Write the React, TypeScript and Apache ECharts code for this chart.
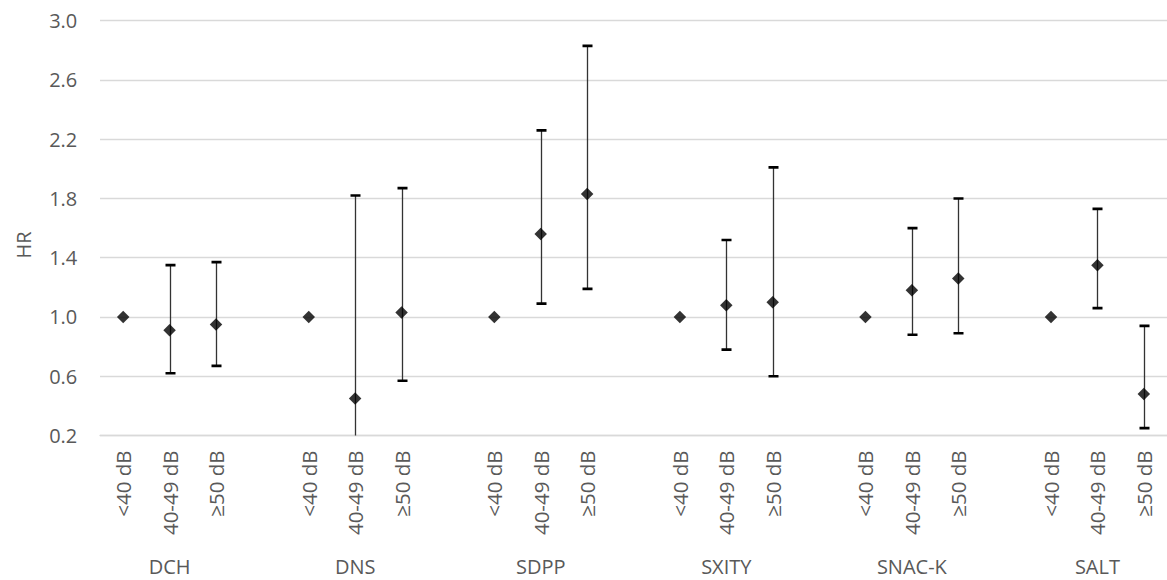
import React, { useEffect, useRef } from "react";
import * as echarts from "echarts";

const groups = ["DCH", "DNS", "SDPP", "SXITY", "SNAC-K", "SALT"];
const levels = ["<40 dB", "40-49 dB", "≥50 dB"];

const hr = [
  [1.0, 0.91, 0.95],
  [1.0, 0.45, 1.03],
  [1.0, 1.56, 1.83],
  [1.0, 1.08, 1.1],
  [1.0, 1.18, 1.26],
  [1.0, 1.35, 0.48],
];
const ciLow: (number | null)[][] = [
  [null, 0.62, 0.67],
  [null, 0.11, 0.57],
  [null, 1.09, 1.19],
  [null, 0.78, 0.6],
  [null, 0.88, 0.89],
  [null, 1.06, 0.25],
];
const ciHigh: (number | null)[][] = [
  [null, 1.35, 1.37],
  [null, 1.82, 1.87],
  [null, 2.26, 2.83],
  [null, 1.52, 2.01],
  [null, 1.6, 1.8],
  [null, 1.73, 0.94],
];

const yMin = 0.2;
const yMax = 3.0;
const yStep = 0.4;

export default function App() {
  const ref = useRef<HTMLDivElement>(null);

  useEffect(() => {
    if (!ref.current) return;
    const chart = echarts.init(ref.current, null, { renderer: "svg" });

    const cats: string[] = [];
    const groupCats: string[] = [];
    const points: [number, number][] = [];
    const bars: [number, number, number][] = [];
    groups.forEach((g, gi) => {
      levels.forEach((lv, li) => {
        const idx = cats.length;
        cats.push(lv);
        groupCats.push(li === 1 ? g : "");
        points.push([idx, hr[gi][li]]);
        const lo = ciLow[gi][li];
        const hi = ciHigh[gi][li];
        if (lo != null && hi != null) bars.push([idx, lo, hi]);
      });
      if (gi < groups.length - 1) {
        cats.push("");
        groupCats.push("");
      }
    });

    const font = "'Open Sans', 'Liberation Sans', sans-serif";
    const textColor = "#595959";

    chart.setOption({
      animation: false,
      backgroundColor: "#ffffff",
      grid: { left: 100, right: -8.5, top: 20.7, bottom: 144.5, containLabel: false },
      xAxis: [
        {
          type: "category",
          position: "bottom",
          data: cats,
          boundaryGap: true,
          axisLine: { show: true, lineStyle: { color: "#d9d9d9", width: 1.3 } },
          axisTick: { show: false },
          axisLabel: {
            interval: 0,
            rotate: 90,
            margin: 15,
            color: textColor,
            fontFamily: font,
            fontSize: 20.5,
          },
          splitLine: { show: false },
        },
        {
          type: "category",
          position: "bottom",
          data: groupCats,
          boundaryGap: true,
          axisLine: { show: false },
          axisTick: { show: false },
          axisLabel: {
            interval: 0,
            margin: 121,
            lineHeight: 20,
            color: textColor,
            fontFamily: font,
            fontSize: 20,
          },
          splitLine: { show: false },
        },
      ],
      yAxis: {
        type: "value",
        min: yMin,
        max: yMax,
        interval: yStep,
        axisLine: { show: false },
        axisTick: { show: false },
        axisLabel: {
          margin: 22.7,
          color: textColor,
          fontFamily: font,
          fontSize: 20,
          formatter: (v: number) => v.toFixed(1),
        },
        splitLine: { show: true, lineStyle: { color: "#d9d9d9", width: 1.3 } },
      },
      graphic: [
        {
          type: "text",
          x: 23,
          y: 245,
          rotation: Math.PI / 2,
          style: {
            text: "HR",
            fill: textColor,
            font: `20px ${font}`,
            align: "center",
            verticalAlign: "middle",
          },
        },
      ],
      series: [
        {
          type: "custom",
          xAxisIndex: 0,
          clip: true,
          z: 2,
          data: bars,
          encode: { x: 0, y: [1, 2] },
          renderItem: (params: any, api: any) => {
            const x = api.value(0);
            const lo = api.value(1);
            const hi = api.value(2);
            const pLo = api.coord([x, lo]);
            const pHi = api.coord([x, hi]);
            const cx = Math.round(pLo[0]) + 0.5;
            const w = 5;
            return {
              type: "group",
              children: [
                {
                  type: "line",
                  shape: { x1: cx, y1: pHi[1], x2: cx, y2: pLo[1] },
                  style: { stroke: "#333333", lineWidth: 1.3 },
                },
                {
                  type: "line",
                  shape: { x1: cx - w, y1: pHi[1], x2: cx + w, y2: pHi[1] },
                  style: { stroke: "#000000", lineWidth: 2.6 },
                },
                {
                  type: "line",
                  shape: { x1: cx - w, y1: pLo[1], x2: cx + w, y2: pLo[1] },
                  style: { stroke: "#000000", lineWidth: 2.6 },
                },
              ],
            };
          },
        },
        {
          type: "scatter",
          xAxisIndex: 0,
          z: 3,
          symbol: "diamond",
          symbolSize: [12.5, 12.5],
          itemStyle: { color: "#000000" },
          data: points,
        },
      ],
    });

    return () => chart.dispose();
  }, []);

  return (
    <div
      ref={ref}
      style={{ position: "fixed", left: 0, top: 0, width: 1167, height: 580, background: "#fff" }}
    />
  );
}
